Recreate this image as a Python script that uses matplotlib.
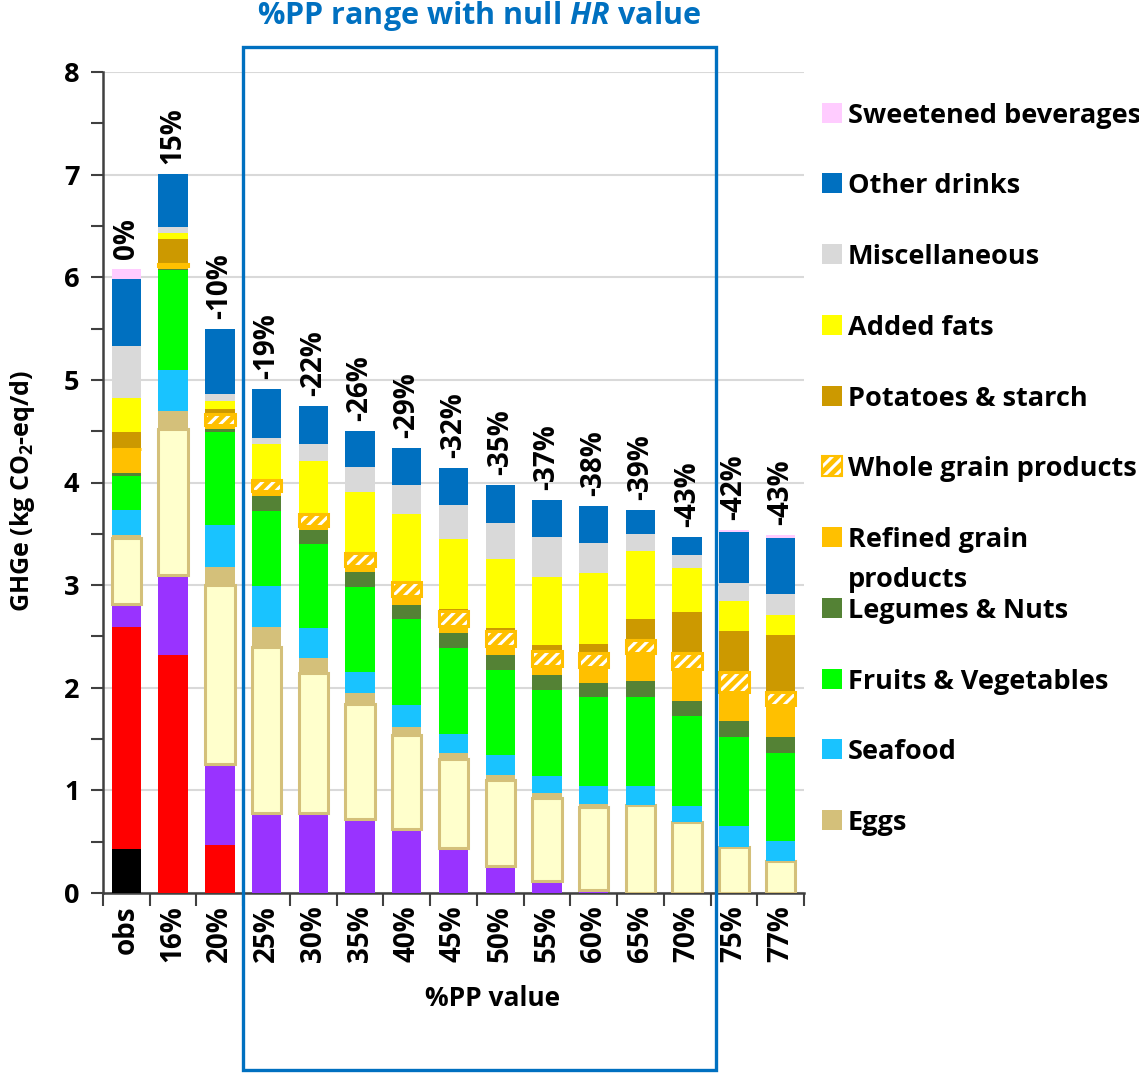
import matplotlib
matplotlib.use("Agg")
import matplotlib.pyplot as plt
import numpy as np
from matplotlib.patches import Rectangle

FONT = 'Open Sans'
plt.rcParams['font.family'] = [FONT, 'DejaVu Sans']
plt.rcParams['font.weight'] = 'bold'
plt.rcParams['mathtext.fontset'] = 'custom'
plt.rcParams['mathtext.rm'] = FONT + ':bold'
plt.rcParams['mathtext.bf'] = FONT + ':bold'
plt.rcParams['mathtext.it'] = FONT + ':bold:italic'
plt.rcParams['mathtext.default'] = 'regular'
plt.rcParams['hatch.linewidth'] = 2.2

# ---- data -------------------------------------------------------------
categories = ['obs', '16%', '20%', '25%', '30%', '35%', '40%', '45%', '50%',
              '55%', '60%', '65%', '70%', '75%', '77%']
change_labels = ['0%', '15%', '-10%', '-19%', '-22%', '-26%', '-29%', '-32%',
                 '-35%', '-37%', '-38%', '-39%', '-43%', '-42%', '-43%']

processed_meat  = [0.43, 0, 0, 0, 0, 0, 0, 0, 0, 0, 0, 0, 0, 0, 0]
red_meat        = [2.16, 2.32, 0.47, 0, 0, 0, 0, 0, 0, 0, 0, 0, 0, 0, 0]
poultry         = [0.23, 0.78, 0.79, 0.78, 0.78, 0.72, 0.62, 0.44, 0.26, 0.12, 0.03, 0, 0, 0, 0]
dairy           = [0.64, 1.42, 1.74, 1.62, 1.36, 1.12, 0.92, 0.87, 0.84, 0.81, 0.81, 0.86, 0.69, 0.45, 0.31]
eggs            = [0.03, 0.18, 0.18, 0.19, 0.15, 0.11, 0.08, 0.05, 0.05, 0.04, 0.03, 0.0, 0.0, 0.0, 0.0]
seafood         = [0.24, 0.40, 0.41, 0.40, 0.29, 0.20, 0.21, 0.19, 0.19, 0.17, 0.17, 0.18, 0.16, 0.20, 0.20]
fruits_veg      = [0.33, 0.97, 0.90, 0.73, 0.82, 0.83, 0.84, 0.84, 0.83, 0.84, 0.87, 0.87, 0.87, 0.87, 0.85]
legumes_nuts    = [0.03, 0.01, 0.03, 0.15, 0.14, 0.15, 0.14, 0.14, 0.15, 0.14, 0.14, 0.16, 0.15, 0.16, 0.16]
refined_grain   = [0.24, 0.03, 0.04, 0.05, 0.04, 0.06, 0.08, 0.07, 0.09, 0.09, 0.15, 0.27, 0.31, 0.28, 0.31]
whole_grain     = [0.0, 0.02, 0.11, 0.10, 0.11, 0.12, 0.14, 0.15, 0.14, 0.15, 0.14, 0.13, 0.16, 0.19, 0.13]
potatoes_starch = [0.16, 0.24, 0.05, 0.0, 0.0, 0.0, 0.0, 0.02, 0.03, 0.06, 0.09, 0.20, 0.40, 0.40, 0.55]
added_fats      = [0.33, 0.06, 0.07, 0.36, 0.52, 0.60, 0.66, 0.68, 0.67, 0.66, 0.69, 0.66, 0.43, 0.30, 0.20]
miscellaneous   = [0.51, 0.06, 0.07, 0.05, 0.17, 0.24, 0.29, 0.33, 0.36, 0.39, 0.29, 0.17, 0.12, 0.17, 0.20]
other_drinks    = [0.65, 0.52, 0.64, 0.48, 0.37, 0.35, 0.36, 0.36, 0.37, 0.36, 0.36, 0.23, 0.18, 0.50, 0.55]
sweetened_bev   = [0.10, 0.0, 0.0, 0.0, 0.0, 0.0, 0.0, 0.0, 0.0, 0.0, 0.0, 0.0, 0.0, 0.02, 0.03]

# stacking order (bottom -> top): name, values, face colour, edge colour, hatch
series = [
    ('Processed meat', processed_meat, '#000000', None, None),
    ('Red meat', red_meat, '#FF0000', None, None),
    ('Poultry', poultry, '#9933FF', None, None),
    ('Dairy', dairy, '#FFFFCC', '#D4C07A', None),
    ('Eggs', eggs, '#D4C07A', None, None),
    ('Seafood', seafood, '#19C3FF', None, None),
    ('Fruits & Vegetables', fruits_veg, '#00FF00', None, None),
    ('Legumes & Nuts', legumes_nuts, '#548235', None, None),
    ('Refined grain\nproducts', refined_grain, '#FFC000', None, None),
    ('Whole grain products', whole_grain, '#FFC000', None, '///'),
    ('Potatoes & starch', potatoes_starch, '#CC9900', None, None),
    ('Added fats', added_fats, '#FFFF00', None, None),
    ('Miscellaneous', miscellaneous, '#D9D9D9', None, None),
    ('Other drinks', other_drinks, '#0070C0', None, None),
    ('Sweetened beverages', sweetened_bev, '#FFCCFF', None, None),
]
legend_names = ['Sweetened beverages', 'Other drinks', 'Miscellaneous', 'Added fats',
                'Potatoes & starch', 'Whole grain products', 'Refined grain\nproducts',
                'Legumes & Nuts', 'Fruits & Vegetables', 'Seafood', 'Eggs']

# ---- figure -----------------------------------------------------------
W, H = 1139, 1073
fig = plt.figure(figsize=(W / 100, H / 100), dpi=100)
ax = fig.add_axes([103 / W, 1 - 893 / H, (804 - 103) / W, (893 - 72) / H])

x = np.arange(len(categories))
width = 0.63
bottom = np.zeros(len(categories))
for name, vals, fc, ec, hatch in series:
    vals = np.asarray(vals, dtype=float)
    if hatch:
        ax.bar(x, vals, width, bottom=bottom, color=fc, edgecolor='white',
               hatch=hatch, linewidth=0, zorder=3)
        ax.bar(x, vals, width, bottom=bottom, facecolor='none',
               edgecolor=fc, linewidth=2.2, zorder=3.5)
    elif ec:
        ax.bar(x, vals, width, bottom=bottom, color=fc, edgecolor=ec,
               linewidth=2.2, zorder=3)
    else:
        ax.bar(x, vals, width, bottom=bottom, color=fc, linewidth=0, zorder=3)
    bottom += vals

totals = bottom
for xi, tot, lab in zip(x, totals, change_labels):
    ax.annotate(lab, (xi, tot), xytext=(0, 7), textcoords='offset points',
                rotation=90, ha='center', va='bottom', fontsize=20,
                fontweight='bold')

ax.set_xlim(-0.5, len(categories) - 0.5)
ax.set_ylim(0, 8)
ax.set_yticks(np.arange(0, 9, 1))
ax.set_yticks(np.arange(0.5, 8, 1), minor=True)
ax.set_xticks(x)
ax.set_xticklabels(categories, rotation=90, fontsize=20, fontweight='bold')
ax.set_xticks(np.arange(-0.5, len(categories), 1), minor=True)
ax.tick_params(axis='x', which='major', length=0, pad=9)
ax.tick_params(axis='x', which='minor', length=9, width=1.5, color='#404040')
ax.tick_params(axis='y', which='both', length=9, width=1.5, color='#404040',
               labelsize=19.5, pad=8)
for lab in ax.get_yticklabels():
    lab.set_fontweight('bold')

ax.grid(axis='y', color='#D9D9D9', linewidth=1.5, zorder=0)
ax.set_axisbelow(True)
for s in ['top', 'right']:
    ax.spines[s].set_visible(False)
for s in ['left', 'bottom']:
    ax.spines[s].set_color('#404040')
    ax.spines[s].set_linewidth(1.8)

ax.set_ylabel(r'GHGe (kg CO$_2$-eq/d)', fontsize=18, fontweight='bold')
ax.yaxis.set_label_coords(-0.094, 0.49)
ax.set_xlabel('%PP value', fontsize=19, fontweight='bold')
ax.xaxis.set_label_coords(0.556, -0.112)

# framed range of %PP values
fig.patches.append(Rectangle((243 / W, 1 - 1070 / H), (716 - 243) / W, (1070 - 47) / H,
                             transform=fig.transFigure, fill=False,
                             edgecolor='#0070C0', linewidth=2.4, zorder=10))
fig.text(479.5 / W, 1 - 16 / H, r'%PP range with null $\mathit{HR}$ value',
         color='#0070C0', fontsize=22, fontweight='bold', ha='center', va='center')

# legend
lookup = {name: (fc, hatch) for name, vals, fc, ec, hatch in series}
y_centers = [113, 183, 254, 325, 396, 466, 537, 608, 679, 749, 820]
for name, yc in zip(legend_names, y_centers):
    fc, hatch = lookup[name]
    corner = (822 / W, 1 - (yc + 10) / H)
    if hatch:
        fig.patches.append(Rectangle(corner, 20 / W, 20 / H, transform=fig.transFigure,
                                     facecolor=fc, edgecolor='white', hatch=hatch,
                                     linewidth=0))
        fig.patches.append(Rectangle(corner, 20 / W, 20 / H, transform=fig.transFigure,
                                     facecolor='none', edgecolor=fc, linewidth=1.5))
    else:
        fig.patches.append(Rectangle(corner, 20 / W, 20 / H, transform=fig.transFigure,
                                     facecolor=fc, linewidth=0))
    for i, line in enumerate(name.split('\n')):
        fig.text(848 / W, 1 - (yc + 10 + 40 * i) / H, line, fontsize=19.5,
                 fontweight='bold', ha='left', va='baseline')

fig.savefig('out.png', dpi=100, facecolor='white')
